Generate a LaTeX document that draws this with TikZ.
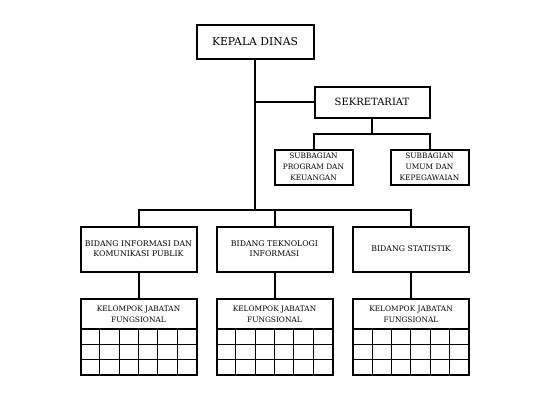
\documentclass[tikz,border=0pt]{standalone}
\usepackage{fontspec}
\setmainfont{DejaVu Serif}
\begin{document}
\begin{tikzpicture}[x=1pt,y=-1pt,
    box/.style={draw,line width=2pt,align=center,inner sep=1pt,outer sep=0pt},
    bigtxt/.style={font=\fontsize{10.8}{13}\selectfont},
    smalltxt/.style={font=\fontsize{7.4}{10.8}\selectfont},
    midtxt/.style={font=\fontsize{7.8}{10.2}\selectfont},
    link/.style={line width=2pt}]
    \useasboundingbox (0,0) rectangle (538,405);
    % pimpinan dan sekretariat
    \node [box,bigtxt,minimum width=117pt,minimum height=34pt] (kepala) at (255,41.5) {KEPALA DINAS};
    \node [box,font=\fontsize{10}{12}\selectfont,minimum width=115pt,minimum height=31pt] (sekre) at (372,102) {SEKRETARIAT};
    \node [box,smalltxt,minimum width=78pt,minimum height=35pt] (sub1) at (313.5,167) {SUBBAGIAN\\PROGRAM DAN\\KEUANGAN};
    \node [box,smalltxt,minimum width=78pt,minimum height=35pt] (sub2) at (429.5,167) {SUBBAGIAN\\UMUM DAN\\KEPEGAWAIAN};
    % bidang
    \node [box,midtxt,minimum width=116pt,minimum height=45pt] (bidang1) at (138.5,249) {BIDANG INFORMASI DAN\\KOMUNIKASI PUBLIK};
    \node [box,midtxt,minimum width=116pt,minimum height=45pt] (bidang2) at (274.5,249) {BIDANG TEKNOLOGI\\INFORMASI};
    \node [box,midtxt,minimum width=116pt,minimum height=45pt] (bidang3) at (411,249) {BIDANG STATISTIK};
    % garis penghubung
    \coordinate (jB) at (255,210);
    \coordinate (jS) at (372,134);
    \draw [link] (kepala.south) -- (jB);
    \draw [link] (kepala.south |- sekre.west) -- (sekre.west);
    \draw [link] (sekre.south) -- (jS);
    \draw [link] (sub1.north) |- (jS) -| (sub2.north);
    \draw [link] (bidang1.north) |- (jB) -| (bidang3.north);
    \draw [link] (bidang2.north) -- (bidang2.north |- jB);
    % kelompok jabatan fungsional
    \foreach \cx/\n in {138.5/1,274.5/2,411/3} {
        \node [box,smalltxt,minimum width=116pt,minimum height=30pt] (kel\n) at (\cx,314) {KELOMPOK JABATAN\\FUNGSIONAL};
        \draw [link] (bidang\n.south) -- (kel\n.north);
        \draw [line width=2pt] ({\cx-58},329) rectangle ({\cx+58},375);
        \foreach \i in {1,...,5}
            \draw [line width=1pt] ({\cx-58+19.33*\i},329) -- ({\cx-58+19.33*\i},375);
        \foreach \j in {1,2}
            \draw [line width=1pt] ({\cx-58},{329+15.33*\j}) -- ({\cx+58},{329+15.33*\j});
    }
\end{tikzpicture}
\end{document}
